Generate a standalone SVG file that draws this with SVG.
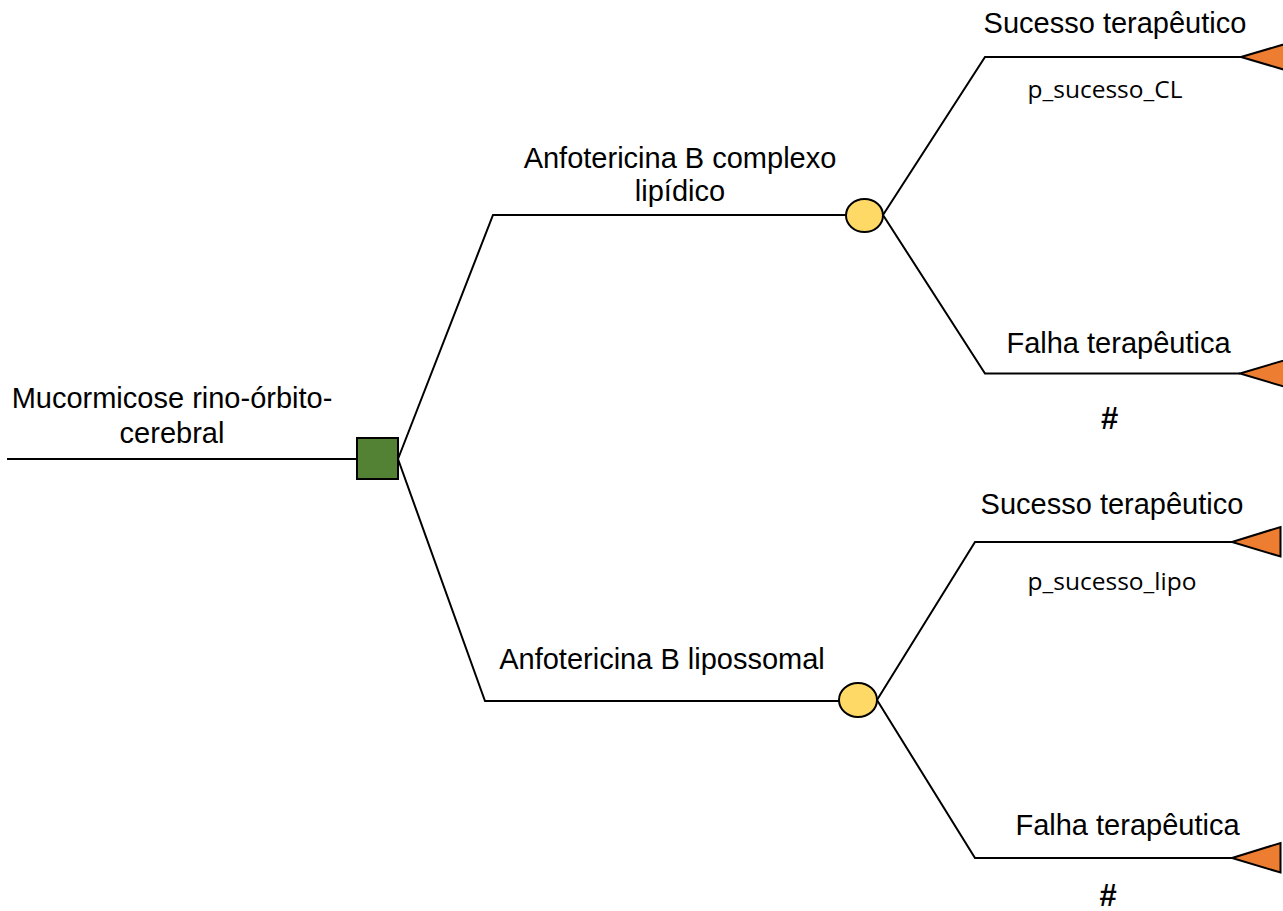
<svg xmlns="http://www.w3.org/2000/svg" width="1283" height="911" viewBox="0 0 1283 911">
<style>
.t{font-family:"Liberation Sans",Arial,sans-serif;font-size:29px;fill:#000;text-anchor:middle}
.h{font-family:"Liberation Sans",Arial,sans-serif;font-size:31px;font-weight:bold;fill:#000;text-anchor:middle}
.p{font-family:"Open Sans","Noto Sans",sans-serif;font-size:24.5px;fill:#000;text-anchor:middle}
.ln{fill:none;stroke:#000;stroke-width:2;stroke-linejoin:miter}
.dec{fill:#548235;stroke:#000;stroke-width:2}
.ch{fill:#FFD966;stroke:#000;stroke-width:2}
.tm{fill:#ED7D31;stroke:#000;stroke-width:2}
</style>
<rect width="1283" height="911" fill="#fff"/>
<g id="connectors">
<polyline class="ln" points="7,459 357,459"/>
<polyline class="ln" points="398,459 493,215 846,215"/>
<polyline class="ln" points="398,459 485,701 839,701"/>
<polyline class="ln" points="883,215 985,57 1241,57"/>
<polyline class="ln" points="883,215 985,373.5 1240,373.5"/>
<polyline class="ln" points="877,700 975,542 1232,542"/>
<polyline class="ln" points="877,700 975,858 1232,858"/>
</g>
<g id="root-label">
<text class="t" x="172" y="408">Mucormicose rino-órbito-</text>
<text class="t" x="172" y="443">cerebral</text>
</g>
<g id="decision">
<rect class="dec" x="357" y="438" width="41" height="41"/>
</g>
<g id="chance-cl">
<text class="t" x="680" y="168">Anfotericina B complexo</text>
<text class="t" x="680" y="201">lipídico</text>
<ellipse class="ch" cx="864.5" cy="215.5" rx="18.5" ry="16.5"/>
</g>
<g id="chance-lipo">
<text class="t" x="662" y="669">Anfotericina B lipossomal</text>
<ellipse class="ch" cx="858" cy="700" rx="19" ry="17"/>
</g>
<g id="term-cl-sucesso">
<text class="t" x="1115" y="33">Sucesso terapêutico</text>
<text class="p" x="1105" y="98">p_sucesso_CL</text>
<polygon class="tm" points="1241,57 1292,42 1292,72"/>
</g>
<g id="term-cl-falha">
<text class="t" x="1118.5" y="353">Falha terapêutica</text>
<text class="h" x="1109.5" y="429">#</text>
<polygon class="tm" points="1240,373.5 1292,358 1292,389"/>
</g>
<g id="term-lipo-sucesso">
<text class="t" x="1112" y="514">Sucesso terapêutico</text>
<text class="p" x="1112" y="590">p_sucesso_lipo</text>
<polygon class="tm" points="1232,542 1280.5,527 1280.5,556.5"/>
</g>
<g id="term-lipo-falha">
<text class="t" x="1127.5" y="835">Falha terapêutica</text>
<text class="h" x="1108" y="906">#</text>
<polygon class="tm" points="1232,858 1280.5,843 1280.5,872.5"/>
</g>
</svg>
